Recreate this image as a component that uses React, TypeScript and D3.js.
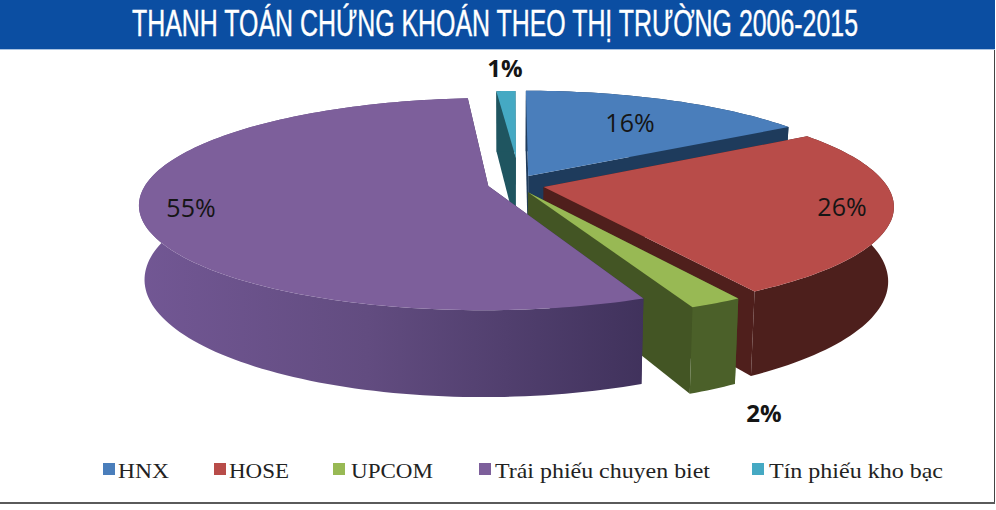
import React from "react";
import * as d3 from "d3";

const categories = ["HNX", "HOSE", "UPCOM", "Trái phiếu chuyen biet", "Tín phiếu kho bạc"];
const values = [16, 25.5, 2.1, 55.1, 1.3];
const labels = ["16%", "26%", "2%", "55%", "1%"];
const topColors = ["#4a7ebb", "#b84c49", "#98b954", "#7d5f9b", "#45a9c3"];
const cutColors = ["#1e3b5c", "#4f1f1c", "#435524", "#3d2f5a", "#1f5560"];
const sideColors = ["#1e3b5c", "#4d1f1c", "#4b6029", "#3d2f5a", "#1f5560"];
// explosion of each slice on the disk, in radius units
const offsetU = [0.048, 0.092, 0.046, -0.069, 0.012];
const offsetW = [-0.0985, 0.01, 0.06, 0, -0.285];
const radiusScale = [1, 1, 1, 1, 0.81];
const drawOrder = [4, 0, 1, 2, 3];
const labelX = [630, 842, 764, 191, 505];
const labelY = [132, 216, 422, 217, 77];
const labelBold = [false, false, true, false, true];
const legendSwatchX = [103, 214, 333, 479, 752];
const legendTextX = [118, 229, 351, 495, 769];
const legendTextW = [51, 60, 82, 215, 174];

const W = 996, H = 510;
const cx = 512, cy = 186, R = 343.5, A = 103, k = 0.171, D = 72, shrink = 0.985;

const project = (u: number, w: number, down = 0) => {
  const s = 1 / (1 - k * w);
  const x = cx + R * u * s;
  const y = cy + A * w * s;
  return down ? [cx + (x - cx) * shrink, y + D * s] : [x, y];
};
const line = d3.line();

export default function App() {
  const pie = d3.pie<number>().sort(null).startAngle(0).endAngle(2 * Math.PI);
  const arcs = pie(values);

  return (
    <svg width={W} height={H} style={{ position: "fixed", left: 0, top: 0 }}>
      <defs>
        <linearGradient id="purpleSide" gradientUnits="userSpaceOnUse" x1={140} x2={645} y1={0} y2={0}>
          <stop offset="0" stopColor="#725794" />
          <stop offset="0.45" stopColor="#624c80" />
          <stop offset="1" stopColor="#40325c" />
        </linearGradient>
      </defs>
      <rect width={W} height={H} fill="#fff" />
      <rect x={0} y={0} width={995} height={49} fill="#0b4ea2" />
      <rect x={0} y={49} width={995} height={1} fill="#a9c3e2" />
      <rect x={994} y={50} width={1} height={453} fill="#444" />
      <rect x={0} y={502} width={995} height={2} fill="#5a5a5a" />
      <text transform="translate(495,36) scale(1,1.32)" textAnchor="middle" fill="#fff" stroke="#fff" strokeWidth={0.3} fontFamily="'Liberation Sans Narrow','Liberation Sans',sans-serif" fontSize={28} textLength={726} lengthAdjust="spacingAndGlyphs">
        THANH TOÁN CHỨNG KHOÁN THEO THỊ TRƯỜNG 2006-2015
      </text>

      {drawOrder.map((i) => {
        const a = arcs[i];
        const r = radiusScale[i];
        const n = Math.max(8, Math.round((a.endAngle - a.startAngle) * 40));
        const ts = d3.range(n + 1).map((j) => a.startAngle + ((a.endAngle - a.startAngle) * j) / n);
        const rim = (down: number) =>
          ts.map((t) => project(offsetU[i] + r * Math.sin(t), offsetW[i] - r * Math.cos(t), down) as [number, number]);
        const top = rim(0);
        const bot = rim(1);
        const apexTop = project(offsetU[i], offsetW[i]) as [number, number];
        const apexBot = project(offsetU[i], offsetW[i], 1) as [number, number];
        const fill = i === 3 ? "url(#purpleSide)" : sideColors[i];
        return (
          <g key={i}>
            <path d={line([apexTop, top[0], bot[0], apexBot])! + "Z"} fill={cutColors[i]} />
            <path d={line([apexTop, top[n], bot[n], apexBot])! + "Z"} fill={cutColors[i]} />
            <path d={line([...top, ...bot.slice().reverse()])! + "Z"} fill={fill} />
            <path d={line([apexTop, ...top])! + "Z"} fill={topColors[i]} />
          </g>
        );
      })}

      {labels.map((l, i) => (
        <text key={i} x={labelX[i]} y={labelY[i]} textAnchor="middle" fill="#151515" fontFamily="'Open Sans','Noto Sans',sans-serif" fontWeight={labelBold[i] ? 700 : 400} fontSize={labelBold[i] ? 24 : 25}>
          {l}
        </text>
      ))}

      {categories.map((c, i) => (
        <g key={c}>
          <rect x={legendSwatchX[i]} y={463} width={12} height={12} fill={topColors[i]} />
          <text x={legendTextX[i]} y={478} fill="#222" fontFamily="'Liberation Serif',serif" fontSize={22} textLength={legendTextW[i]} lengthAdjust="spacingAndGlyphs">
            {c}
          </text>
        </g>
      ))}
    </svg>
  );
}
